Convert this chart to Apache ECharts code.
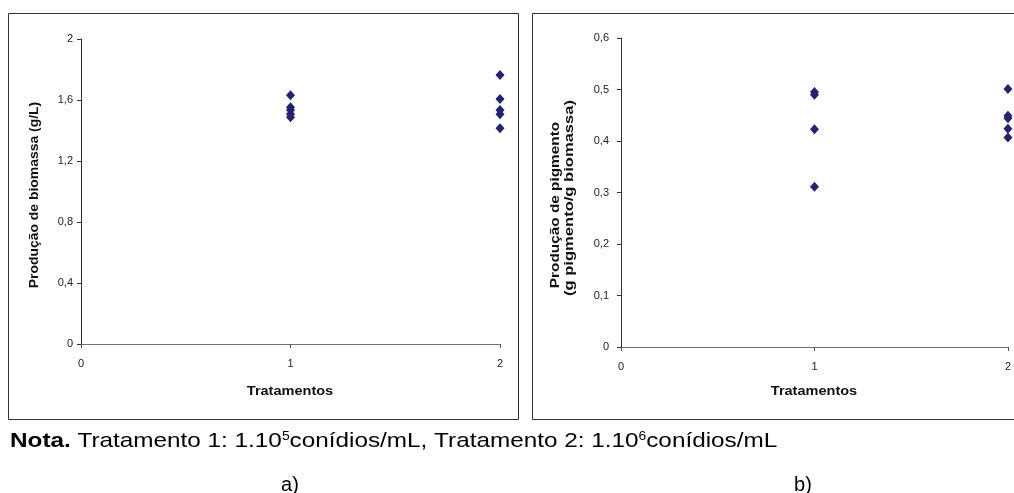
<!DOCTYPE html>
<html>
<head>
<meta charset="utf-8">
<script src="https://cdn.jsdelivr.net/npm/echarts@6/dist/echarts.min.js"></script>
<style>
html,body{margin:0;padding:0;background:#fff;}
#c{width:1014px;height:493px;}
</style>
</head>
<body>
<div id="c"></div>
<script>
// ---- data ----
const biomassT1 = [1.631, 1.552, 1.534, 1.508, 1.487];
const biomassT2 = [1.764, 1.607, 1.534, 1.506, 1.414];
const pigmentT1 = [0.495, 0.490, 0.423, 0.311];
const pigmentT2 = [0.501, 0.449, 0.444, 0.424, 0.407];
const xTitle = 'Tratamentos';
const yTitleA = 'Produção de biomassa (g/L)';
const yTitleB1 = 'Produção de pigmento';
const yTitleB2 = '(g pigmento/g biomassa)';
const noteText = '{b|Nota.} Tratamento 1: 1.10{s|5}conídios/mL, Tratamento 2: 1.10{s|6}conídios/mL';

function pairs(x, arr) { return arr.map(v => [x, v]); }
const comma = v => String(+v.toFixed(2)).replace('.', ',');

const FONT = 'Liberation Sans, Arial, sans-serif';
const markColor = '#232372';

function xAxis(gi) {
  return {
    type: 'value', gridIndex: gi, min: 0, max: 2, interval: 1,
    axisLine: { show: true, lineStyle: { color: '#707070', width: 1 } },
    axisTick: { show: true, length: 4, lineStyle: { color: '#555' } },
    axisLabel: { fontFamily: FONT, fontSize: 11, color: '#222', margin: 14, formatter: comma },
    splitLine: { show: false }
  };
}
function yAxis(gi, max, interval, margin) {
  return {
    type: 'value', gridIndex: gi, min: 0, max: max, interval: interval,
    axisLine: { show: true, lineStyle: { color: '#333', width: 1 } },
    axisTick: { show: true, length: 4, lineStyle: { color: '#333' } },
    axisLabel: { fontFamily: FONT, fontSize: 11, color: '#222', margin: margin, formatter: comma },
    splitLine: { show: false }
  };
}
function scat(gi, data) {
  return {
    type: 'scatter', xAxisIndex: gi, yAxisIndex: gi, data: data,
    symbol: 'diamond', symbolSize: [9, 10],
    itemStyle: { color: markColor, opacity: 1 },
    clip: false, silent: true
  };
}
function title(text, x, y, sx, rot) {
  return {
    type: 'text', x: x, y: y, rotation: rot || 0, scaleX: sx, silent: true,
    style: { text: text, fontFamily: FONT, fontSize: 12, fontWeight: 'bold', fill: '#111',
             align: 'center', verticalAlign: 'middle' }
  };
}

const chart = echarts.init(document.getElementById('c'), null, { renderer: 'canvas' });
chart.setOption({
  animation: false,
  backgroundColor: '#fff',
  grid: [
    { left: 81, top: 39, width: 419, height: 305 },
    { left: 621, top: 38, width: 388, height: 309 }
  ],
  xAxis: [xAxis(0), xAxis(1)],
  yAxis: [yAxis(0, 2, 0.4, 8), yAxis(1, 0.6, 0.1, 12)],
  series: [
    scat(0, pairs(1, biomassT1)),
    scat(0, pairs(2, biomassT2)),
    scat(1, pairs(1, pigmentT1)),
    scat(1, pairs(2, pigmentT2))
  ],
  graphic: [
    { type: 'rect', shape: { x: 8.5, y: 13.5, width: 510, height: 406 }, style: { fill: null, stroke: '#333', lineWidth: 1 }, z: -1 },
    { type: 'rect', shape: { x: 532.5, y: 13.5, width: 520, height: 406 }, style: { fill: null, stroke: '#333', lineWidth: 1 }, z: -1 },
    title(xTitle, 290, 392, 1.21),
    title(xTitle, 814, 392, 1.21),
    title(yTitleA, 35, 195, 1.16, Math.PI / 2),
    title(yTitleB1, 556, 205, 1.28, Math.PI / 2),
    title(yTitleB2, 570, 198, 1.38, Math.PI / 2),
    { type: 'text', x: 10, y: 441, scaleX: 1.157, silent: true, style: {
        text: noteText,
        verticalAlign: 'middle',
        rich: {
          b: { fontFamily: FONT, fontSize: 21, fontWeight: 'bold', fill: '#000', lineHeight: 22, verticalAlign: 'bottom' },
          s: { fontFamily: FONT, fontSize: 12, fill: '#000', lineHeight: 12, padding: [0, 0, 9, 0], verticalAlign: 'bottom' }
        },
        fontFamily: FONT, fontSize: 21, lineHeight: 22, fill: '#000'
    } },
    { type: 'text', x: 290, y: 485, silent: true, style: { text: 'a)', fontFamily: FONT, fontSize: 20, fill: '#000', align: 'center', verticalAlign: 'middle' } },
    { type: 'text', x: 803, y: 485, silent: true, style: { text: 'b)', fontFamily: FONT, fontSize: 20, fill: '#000', align: 'center', verticalAlign: 'middle' } }
  ]
});
</script>
</body>
</html>
